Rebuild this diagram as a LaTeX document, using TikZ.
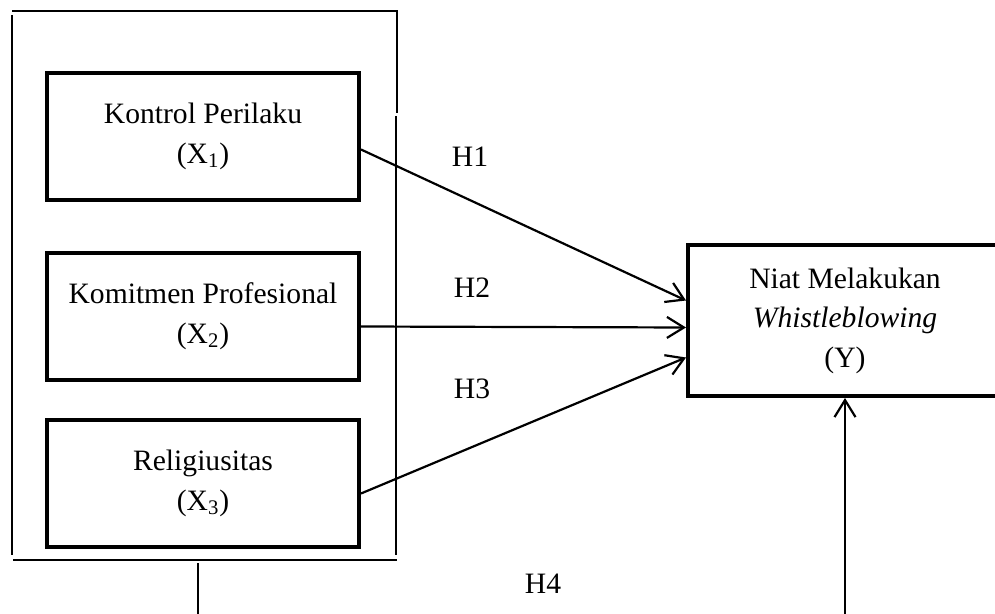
\documentclass[tikz,border=0pt]{standalone}
\usepackage{fontspec}
\setmainfont{Liberation Serif}
\usetikzlibrary{arrows.meta,calc}
\begin{document}
\begin{tikzpicture}[x=0.5pt,y=-0.5pt,
  every node/.style={font=\fontsize{14.8}{19.8}\selectfont},
  varbox/.style={draw,line width=2pt,minimum width=156pt,minimum height=63.5pt,align=center,inner sep=0pt},
  ybox/.style={draw,line width=2pt,minimum width=157pt,minimum height=75.5pt,align=center,inner sep=0pt},
  frame/.style={line width=0.75pt},
  arr/.style={line width=1.1pt,-{Straight Barb[length=8.5pt,width=10.5pt,line width=1.1pt]}},
  hlabel/.style={inner sep=0pt}]
\useasboundingbox (0,0) rectangle (995,614);
\clip (0,0) rectangle (995,614);
% outer group frame
\draw[frame] (12,11) -- (397,11) -- (397,113);
\draw[frame] (396,116) -- (396,555);
\draw[frame] (12,15) -- (12,555);
\draw[frame] (13,560) -- (397,560);
\coordinate (g) at (198,563);
% variable boxes
\node[varbox] (b1) at (203,136.5) {Kontrol Perilaku\\(X\textsubscript{1})};
\node[varbox] (b2) at (203,316.5) {Komitmen Profesional\\(X\textsubscript{2})};
\node[varbox] (b3) at (203,483.5) {Religiusitas\\(X\textsubscript{3})};
\node[ybox] (y) at (845,320.5) {Niat Melakukan\\\textit{Whistleblowing}\\(Y)};
% arrows
\draw[arr] ($(b1.east)+(0,13)$) -- ($(y.west)+(0,-20)$);
\draw[arr] ($(b2.east)+(0,10)$) -- ($(y.west)+(0,7)$);
\draw[arr] ($(b3.east)+(0,10)$) -- ($(y.west)+(0,37)$);
\draw[arr] (g) -- ++(0,90) -| (y.south);
% labels
\node[hlabel] (h1) at (470,157) {H1};
\node[hlabel] (h2) at (472,288) {H2};
\node[hlabel] (h3) at (472,389) {H3};
\node[hlabel] (h4) at (543,584) {H4};
\end{tikzpicture}
\end{document}
